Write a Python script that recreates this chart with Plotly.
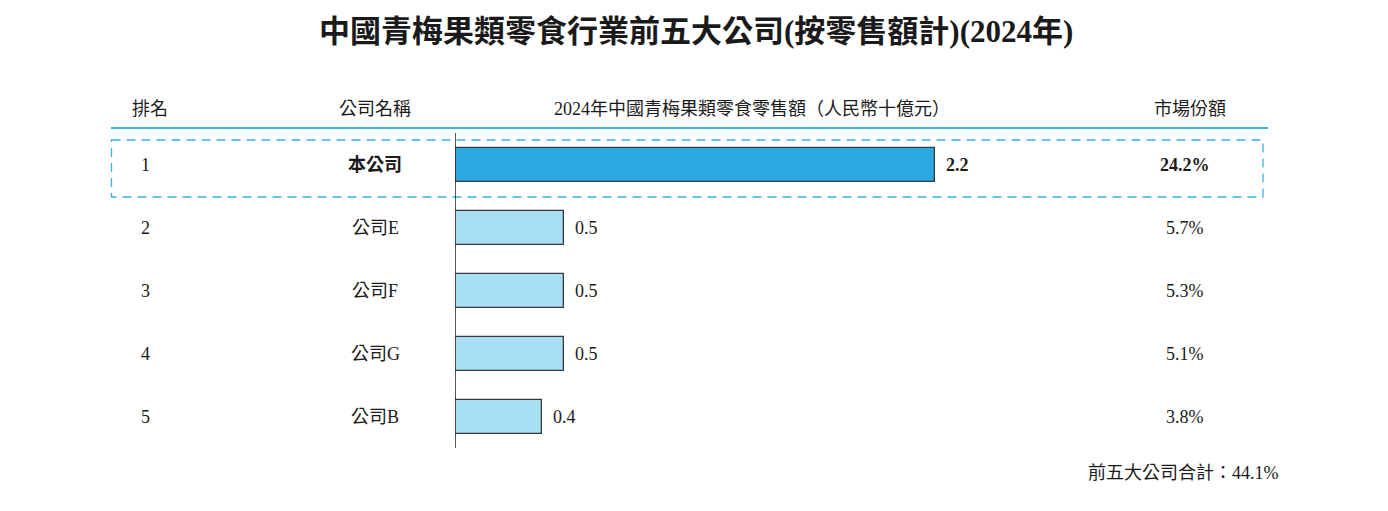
import plotly.graph_objects as go

# ---- data ----
ranks = [1, 2, 3, 4, 5]
companies = ["本公司", "公司E", "公司F", "公司G", "公司B"]
sales = [2.2, 0.5, 0.5, 0.5, 0.4]
shares = ["24.2%", "5.7%", "5.3%", "5.1%", "3.8%"]
headers = ["排名", "公司名稱", "2024年中國青梅果類零食零售額（人民幣十億元）", "市場份額"]
title_text = "中國青梅果類零食行業前五大公司(按零售額計)(2024年)"
footer_text = "前五大公司合計：44.1%"

W, H = 1388, 511
AX0 = 455          # pixel of x=0
PX_PER_UNIT = 218  # pixels per unit of sales
ROW0 = 165         # pixel center of rank 1
ROW_STEP = 63

FONT = "Liberation Serif, Times New Roman, Noto Sans CJK TC, serif"
BLUE = "#29A9E0"
LIGHT = "#A8DFF3"
LINE_BLUE = "#3BB0E3"
DARK = "#1a1a1a"
FS = 18

def px_x(p):
    return p / W

x_max = (W - AX0) / PX_PER_UNIT
y_top = 1 - ROW0 / ROW_STEP
y_bot = 1 + (H - ROW0) / ROW_STEP

def yv(p):
    return 1 + (p - ROW0) / ROW_STEP

colors = [BLUE] + [LIGHT] * (len(ranks) - 1)

fig = go.Figure()
fig.add_trace(go.Bar(
    x=sales, y=ranks, orientation="h",
    marker=dict(color=colors, line=dict(color="#3a3a3a", width=1.3)),
    width=34 / ROW_STEP, hoverinfo="skip", showlegend=False,
))

ann = []
# title
ann.append(dict(x=px_x(696), xref="paper", y=yv(31), yref="y", text="<b>" + title_text + "</b>",
                showarrow=False, font=dict(size=31, color=DARK, family=FONT), xanchor="center", yanchor="middle"))
# headers
hx = [150, 375, 752, 1190]
for t, x in zip(headers, hx):
    ann.append(dict(x=px_x(x), xref="paper", y=yv(109), yref="y", text=t, showarrow=False,
                    font=dict(size=FS, color=DARK, family=FONT), xanchor="center", yanchor="middle"))
# rows
for i, (r, c, v, s) in enumerate(zip(ranks, companies, sales, shares)):
    bold = i == 0
    wrap = (lambda t: "<b>" + t + "</b>") if bold else (lambda t: t)
    ann.append(dict(x=px_x(145), xref="paper", y=r, yref="y", text=str(r), showarrow=False,
                    font=dict(size=FS, color=DARK, family=FONT), xanchor="center", yanchor="middle"))
    ann.append(dict(x=px_x(375), xref="paper", y=r, yref="y", text=wrap(c), showarrow=False,
                    font=dict(size=FS, color=DARK, family=FONT), xanchor="center", yanchor="middle"))
    ann.append(dict(x=v, xref="x", y=r, yref="y", text=wrap(f"{v:.1f}"), showarrow=False, xshift=9,
                    font=dict(size=FS, color=DARK, family=FONT), xanchor="left", yanchor="middle"))
    ann.append(dict(x=px_x(1185), xref="paper", y=r, yref="y", text=wrap(s), showarrow=False,
                    font=dict(size=FS, color=DARK, family=FONT), xanchor="center", yanchor="middle"))
# footer
ann.append(dict(x=px_x(1281), xref="paper", y=yv(473), yref="y", text=footer_text, showarrow=False,
                font=dict(size=FS, color=DARK, family=FONT), xanchor="right", yanchor="middle"))

shapes = [
    # header underline
    dict(type="line", xref="paper", yref="y", x0=px_x(111), x1=px_x(1268), y0=yv(128), y1=yv(128),
         line=dict(color=LINE_BLUE, width=2)),
    # dashed highlight box
    dict(type="rect", xref="paper", yref="y", x0=px_x(111.5), x1=px_x(1263), y0=yv(140), y1=yv(197),
         line=dict(color=LINE_BLUE, width=1.3, dash="9px,6px"), fillcolor="rgba(0,0,0,0)", layer="below"),
    # vertical axis line
    dict(type="line", xref="x", yref="y", x0=0, x1=0, y0=yv(133), y1=yv(448),
         line=dict(color="#222222", width=1.5)),
]

fig.update_layout(
    width=W, height=H,
    margin=dict(l=0, r=0, t=0, b=0),
    paper_bgcolor="white", plot_bgcolor="white",
    xaxis=dict(domain=[AX0 / W, 1], range=[0, x_max], visible=False, fixedrange=True),
    yaxis=dict(domain=[0, 1], range=[y_bot, y_top], visible=False, fixedrange=True),
    annotations=ann, shapes=shapes, bargap=0,
)

fig.write_html("out.html")
